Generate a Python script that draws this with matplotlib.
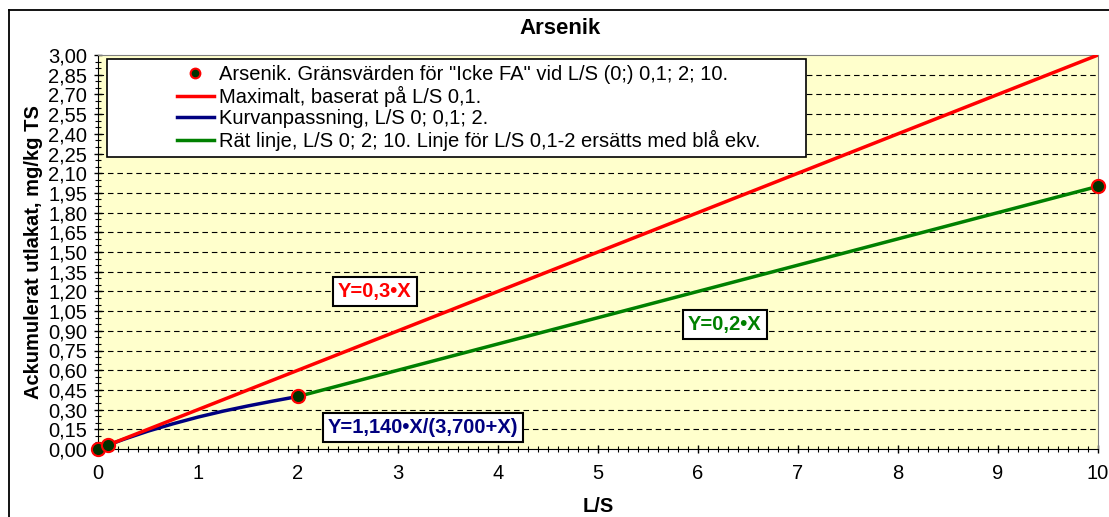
import numpy as np
import matplotlib
matplotlib.use("Agg")
import matplotlib.pyplot as plt
from matplotlib.ticker import MultipleLocator, FuncFormatter
from matplotlib.legend_handler import HandlerLine2D
from matplotlib.lines import Line2D

plt.rcParams['font.family'] = ['Liberation Sans', 'DejaVu Sans']

# data
point_x = [0, 0.1, 2, 10]
point_y = [0, 0.03, 0.40, 2.00]

red_x = [0, 10]
red_y = [0, 3.00]

blue_x = [0, 0.1, 0.25, 0.5, 0.75, 1.0, 1.25, 1.5, 1.75, 2.0]
blue_y = [0, 0.030, 0.072, 0.136, 0.192, 0.243, 0.288, 0.328, 0.365, 0.400]

green_x = [2, 10]
green_y = [0.40, 2.00]

labels = [
    'Arsenik. Gränsvärden för "Icke FA" vid L/S (0;) 0,1; 2; 10.',
    'Maximalt, baserat på L/S 0,1.',
    'Kurvanpassning, L/S 0; 0,1; 2.',
    'Rät linje, L/S 0; 2; 10. Linje för L/S 0,1-2 ersätts med blå ekv.',
]

W, H = 1109, 517
FS = 14.5


class ShiftedHandler(HandlerLine2D):
    # draw the handle only in the right part of the handle box
    def create_artists(self, legend, orig_handle, xdescent, ydescent,
                       width, height, fontsize, trans):
        shift = 46
        return super().create_artists(legend, orig_handle, xdescent - shift,
                                      ydescent, width - shift, height,
                                      fontsize, trans)


fig = plt.figure(figsize=(W / 100, H / 100), dpi=100)
ax = fig.add_axes([98 / W, (H - 449) / H, 1000 / W, 394 / H])
ax.set_facecolor('#FFFFCC')

for v in np.arange(0.15, 2.90, 0.15):
    ax.axhline(v, color='black', lw=0.8, ls=(0, (5, 3.5)), zorder=1)

ax.plot(blue_x, blue_y, color='#000080', lw=2.5, zorder=3,
        label=labels[2])
ax.plot(red_x, red_y, color='#FF0000', lw=2.5, zorder=4,
        label=labels[1])
ax.plot(green_x, green_y, color='#008000', lw=2.5, zorder=3,
        label=labels[3])
ax.plot(point_x, point_y, ls='none', marker='o', ms=9.5, mfc='#003300',
        mec='#FF0000', mew=1.5, zorder=5, clip_on=False, label=labels[0])

ax.set_xlim(0, 10)
ax.set_ylim(0, 3.0)
ax.xaxis.set_major_locator(MultipleLocator(1))
ax.xaxis.set_minor_locator(MultipleLocator(0.1))
ax.yaxis.set_major_locator(MultipleLocator(0.15))
ax.yaxis.set_minor_locator(MultipleLocator(0.05))
ax.yaxis.set_major_formatter(FuncFormatter(lambda v, p: f'{v:.2f}'.replace('.', ',')))
ax.tick_params(which='major', direction='inout', length=5.5, width=1,
               labelsize=FS)
ax.tick_params(axis='x', which='major', pad=8)
ax.tick_params(axis='y', which='major', pad=5)
ax.tick_params(which='minor', direction='inout', length=4, width=0.8)

for s in ['top', 'right']:
    ax.spines[s].set_color('#808080')
for s in ['left', 'bottom']:
    ax.spines[s].set_color('black')

ax.set_xlabel('L/S', fontsize=FS, fontweight='bold', labelpad=10)
ax.set_ylabel('Ackumulerat utlakat, mg/kg TS', fontsize=FS,
              fontweight='bold', labelpad=4)
fig.text(560 / W, 1 - 28 / H, 'Arsenik', ha='center', va='center',
         fontsize=16, fontweight='bold')

handles, labs = ax.get_legend_handles_labels()
order = [3, 1, 0, 2]
leg = ax.legend([handles[i] for i in order], [labs[i] for i in order],
                loc='upper left', bbox_to_anchor=(0.009, 0.99, 0.699, 0),
                mode='expand', borderaxespad=0, fontsize=FS,
                handlelength=5.0, handletextpad=0.25, labelspacing=0.1,
                borderpad=0.3, numpoints=1, fancybox=False, framealpha=1,
                handler_map={Line2D: ShiftedHandler()})
leg.get_frame().set_edgecolor('black')
leg.get_frame().set_linewidth(1.2)
for h in leg.legend_handles:
    if h.get_marker() == 'o':
        h.set_markersize(7)

box = dict(boxstyle='square,pad=0.25', fc='white', ec='black', lw=1.5)
ax.text(2.77, 1.20, 'Y=0,3•X', color='#FF0000', fontsize=FS,
        fontweight='bold', ha='center', va='center', bbox=box, zorder=6)
ax.text(6.27, 0.95, 'Y=0,2•X', color='#008000', fontsize=FS,
        fontweight='bold', ha='center', va='center', bbox=box, zorder=6)
ax.text(3.25, 0.167, 'Y=1,140•X/(3,700+X)', color='#000080', fontsize=FS,
        fontweight='bold', ha='center', va='center', zorder=6,
        bbox=dict(boxstyle='square,pad=0.25', fc='white', ec='black',
                  lw=1.5))

# outer chart frame
fig.add_artist(Line2D([9 / W, 1.0], [1 - 10 / H, 1 - 10 / H],
                      color='black', lw=1.3, transform=fig.transFigure))
fig.add_artist(Line2D([9 / W, 9 / W], [0, 1 - 10 / H],
                      color='black', lw=1.3, transform=fig.transFigure))

fig.savefig('out.png', dpi=100)
